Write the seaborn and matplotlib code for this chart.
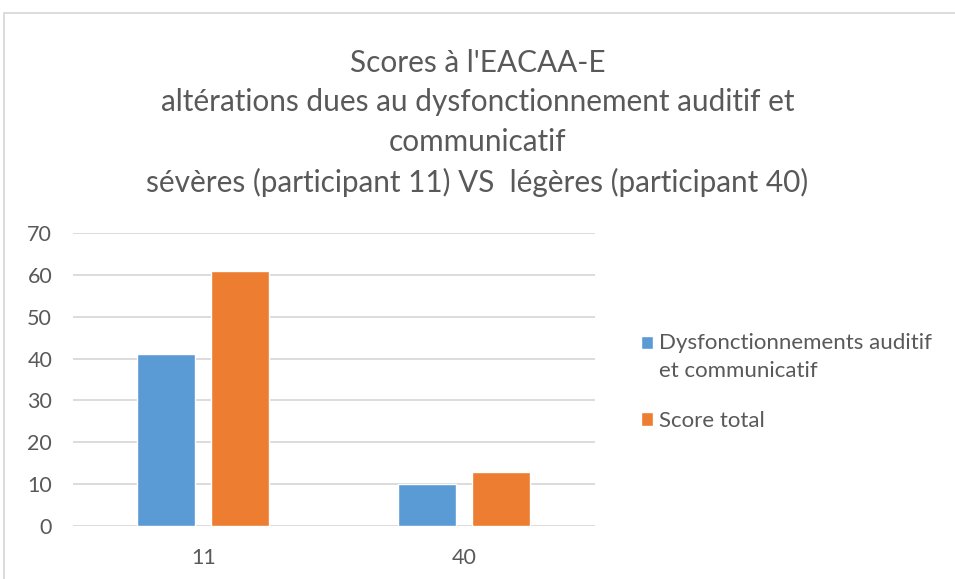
import pandas as pd
import seaborn as sns
import matplotlib.pyplot as plt
from matplotlib.patches import Rectangle

participants = ["11", "40"]
series_names = ["Dysfonctionnements auditif\net communicatif", "Score total"]
dysfonctionnements = [41, 10]
score_total = [61, 13]
yticks = [0, 10, 20, 30, 40, 50, 60, 70]

title = ("Scores à l'EACAA-E\n"
         "altérations dues au dysfonctionnement auditif et\n"
         "communicatif\n"
         "sévères (participant 11) VS  légères (participant 40)")

df = pd.DataFrame({
    "participant": participants * 2,
    "serie": [series_names[0]] * 2 + [series_names[1]] * 2,
    "score": dysfonctionnements + score_total,
})

sns.set_style("white")
plt.rcParams['font.family'] = ['Lato', 'DejaVu Sans']
grey = "#595959"

fig = plt.figure(figsize=(9.55, 5.79), dpi=100)
ax = fig.add_axes([0.0764, 0.0915, 0.5466, 0.5061])

sns.barplot(data=df, x="participant", y="score", hue="serie",
            palette=["#5b9bd5", "#ed7d31"], width=0.567, gap=0.216,
            saturation=1, ax=ax, legend=True)

ax.set_ylim(0, 70)
ax.set_yticks(yticks)
ax.set_xlim(-0.5, 1.5)
ax.yaxis.grid(True, color="#d9d9d9", linewidth=1.3)
ax.set_axisbelow(True)
for s in ax.spines.values():
    s.set_visible(False)
ax.set_xlabel("")
ax.set_ylabel("")
ax.tick_params(axis="both", length=0, labelsize=15.5, labelcolor=grey)
ax.tick_params(axis="y", pad=15)
ax.tick_params(axis="x", pad=16)

handles, labels = ax.get_legend_handles_labels()
ax.legend_.remove()
leg = fig.legend(handles, labels, loc="upper left", bbox_to_anchor=(0.671, 0.425),
                 frameon=False, fontsize=16, labelcolor=grey, handlelength=0.54,
                 handleheight=0.54, handletextpad=0.3, labelspacing=1.35,
                 borderpad=0, borderaxespad=0)
for t in leg.get_texts():
    t.set_linespacing(1.5)
# Excel puts the square next to the first line of a wrapped label
first = leg.legend_handles[0]
first.set_y(first.get_y() + 10.5)

fig.text(0.5, 0.915, title, ha="center", va="top", fontsize=21.4,
         color=grey, linespacing=1.49)

fig.patches.append(Rectangle((4 / 955, -0.1), 1.2, 1.1 - 13 / 579,
                             transform=fig.transFigure, fill=False,
                             edgecolor="#d9d9d9", linewidth=1.3))

fig.savefig("out.png", dpi=100, facecolor="white")
